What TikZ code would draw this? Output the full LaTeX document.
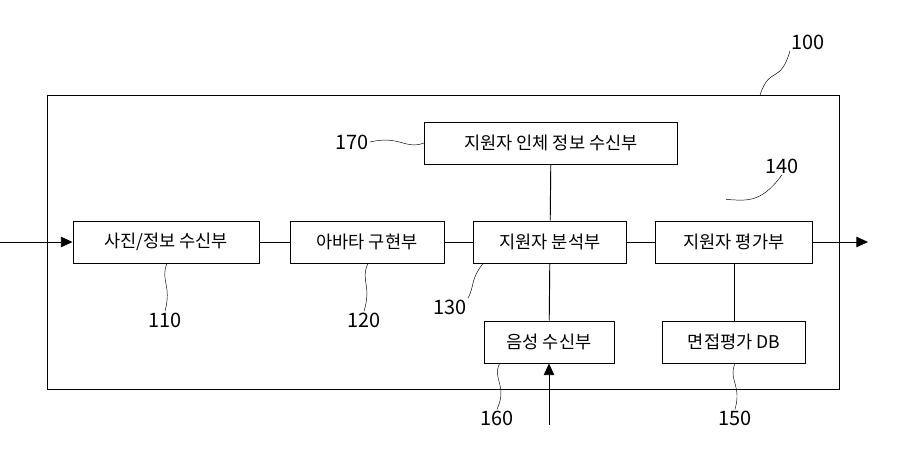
\documentclass[tikz,border=0pt]{standalone}
\usepackage{fontspec}
\setmainfont{Noto Sans CJK KR}
\usetikzlibrary{arrows.meta}
\tikzset{
  blk/.style={draw, thick, minimum height=1.26cm, inner sep=0pt, font=\fontsize{15}{18}\selectfont},
  lbl/.style={font=\fontsize{17}{20}\selectfont, inner sep=1pt},
  lead/.style={thin},
  flow/.style={thick, -{Triangle[length=10pt,width=9pt]}}
}
\begin{document}
\begin{tikzpicture}[x=0.03cm, y=-0.03cm]
	\useasboundingbox (0,0) rectangle (899,471);

	\draw[thick] (47,95) rectangle (839,389);

	% blocks
	\node[blk, minimum width=5.58cm] (b110) at (166,242) {사진/정보 수신부};
	\node[blk, minimum width=4.62cm] (b120) at (367,242) {아바타 구현부};
	\node[blk, minimum width=4.59cm] (b130) at (550,242) {지원자 분석부};
	\node[blk, minimum width=4.71cm] (b140) at (734,242) {지원자 평가부};
	\node[blk, minimum width=7.59cm] (b170) at (551,143) {지원자 인체 정보 수신부};
	\node[blk, minimum width=3.90cm] (b160) at (549,342) {음성 수신부};
	\node[blk, minimum width=4.29cm] (b150) at (734,342) {면접평가 DB};

	\coordinate (in) at (0,242);
	\coordinate (out) at (868,242);
	\coordinate (vin) at (549,425);

	\draw[flow] (in) -- (b110);
	\draw[thick] (b110) -- (b120);
	\draw[thick] (b120) -- (b130);
	\draw[thick] (b130) -- (b140);
	\draw[thick] (b130) -- (b170);
	\draw[thick] (b130) -- (b160);
	\draw[thick] (b140) -- (b150);
	\draw[flow] (b140) -- (out);
	\draw[flow] (vin) -- (b160);

	% reference labels
	\node[lbl] (l100) at (808,42) {100};
	\node[lbl] (l170) at (352,142) {170};
	\node[lbl] (l140) at (782,166) {140};
	\node[lbl] (l110) at (165,320) {110};
	\node[lbl] (l120) at (364,320) {120};
	\node[lbl] (l130) at (450,307) {130};
	\node[lbl] (l160) at (497,418) {160};
	\node[lbl] (l150) at (735,418) {150};

	\draw[lead] (760,95) .. controls (770,65) and (780,85) .. (l100.south west);
	\draw[lead] (l170.east) .. controls (400,135) and (405,150) .. (b170.west);
	\draw[lead] (b140.north) ++(-8,-21) .. controls (745,200) and (760,205) .. (l140.south);
	\draw[lead] (b110.south) ++(1,0) .. controls (160,280) and (172,285) .. (l110.north);
	\draw[lead] (b120.south) ++(1,0) .. controls (360,280) and (372,285) .. (l120.north);
	\draw[lead] (b130.south west) ++(10,0) .. controls (470,280) and (475,285) .. (l130.north east);
	\draw[lead] (b160.south west) ++(16,0) .. controls (492,380) and (508,385) .. (l160.north);
	\draw[lead] (b150.south) ++(1,0) .. controls (728,380) and (742,385) .. (l150.north);
\end{tikzpicture}
\end{document}
